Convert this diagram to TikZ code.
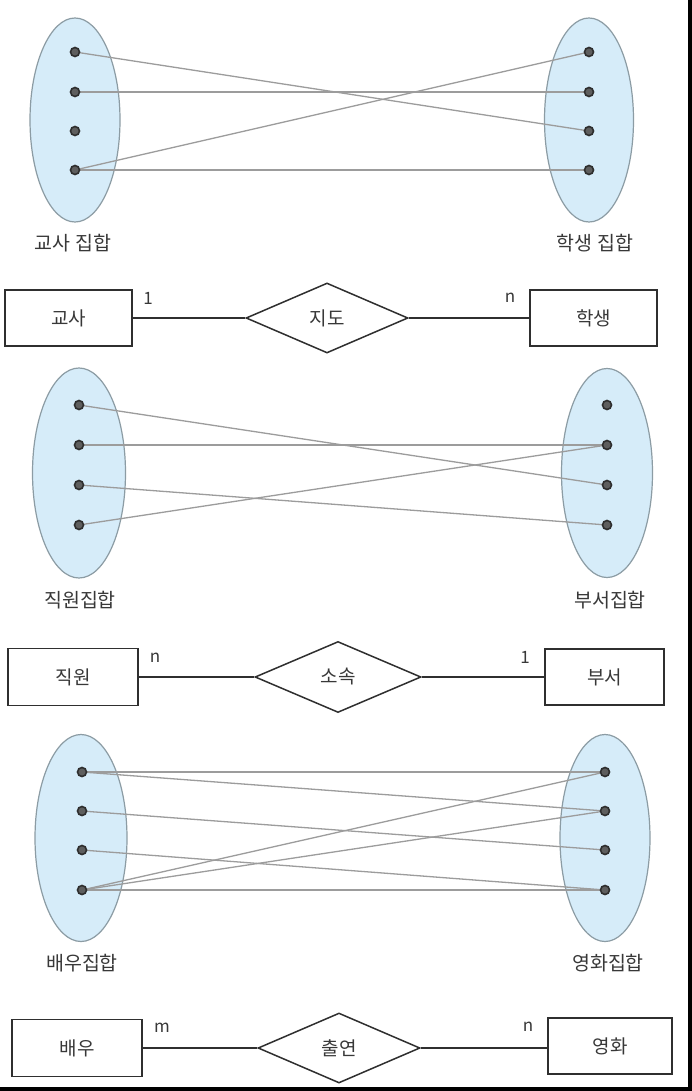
\documentclass[tikz,border=0pt]{standalone}
\usepackage{fontspec}
\setmainfont{Noto Sans CJK KR}
\usetikzlibrary{shapes.geometric}

\definecolor{setfill}{HTML}{D6ECF9}
\definecolor{setedge}{HTML}{8C9CA4}
\definecolor{linkgray}{HTML}{9C9C9C}
\definecolor{dotfill}{HTML}{5E5E5E}
\definecolor{dotedge}{HTML}{2E2E2E}
\definecolor{erline}{HTML}{2F2F2F}
\definecolor{txt}{HTML}{383838}

\pgfdeclarelayer{paper}
\pgfdeclarelayer{sets}
\pgfdeclarelayer{links}
\pgfsetlayers{paper,sets,links,main}

\tikzset{
  setshape/.style={ellipse, draw=setedge, fill=setfill, line width=1.2pt, inner sep=0pt},
  elem/.style={circle, draw=dotedge, fill=dotfill, line width=1.6pt, inner sep=0pt, minimum size=9pt},
  link/.style={draw=linkgray, line width=1.3pt},
  setlabel/.style={text=txt, inner sep=0pt, font=\fontsize{19.5}{22}\selectfont},
  entity/.style={rectangle, draw=erline, line width=1.5pt, inner sep=0pt, text=txt,
                 font=\fontsize{19}{21}\selectfont},
  relation/.style={diamond, draw=erline, line width=1.5pt, inner sep=0pt, text=txt,
                   font=\fontsize{19}{21}\selectfont},
  card/.style={text=txt, inner sep=0pt, font=\fontsize{17}{19}\selectfont},
  erlink/.style={draw=erline, line width=1.5pt}
}

\begin{document}
\begin{tikzpicture}[x=1pt,y=-1pt]
\useasboundingbox (0,0) rectangle (692,1091);
\begin{pgfonlayer}{paper}
  \fill[white] (0,0) rectangle (692,1091);
\end{pgfonlayer}

% ---------- teachers / students ----------
\begin{pgfonlayer}{sets}
  \node[setshape, minimum width=90pt, minimum height=204pt] (tset) at (75,120) {};
  \node[setshape, minimum width=89pt, minimum height=204pt] (sset) at (589,120) {};
\end{pgfonlayer}
\foreach \i/\y in {1/52,2/92,3/131,4/170}{
  \node[elem] (a\i) at (75,\y) {};
  \node[elem] (b\i) at (589,\y) {};
}
\begin{pgfonlayer}{links}
  \draw[link] (a1.center) -- (b3.center);
  \draw[link] (a2.center) -- (b2.center);
  \draw[link] (a4.center) -- (b1.center);
  \draw[link] (a4.center) -- (b4.center);
\end{pgfonlayer}
\node[setlabel] (tlab) at (73,243) {교사 집합};
\node[setlabel] (slab) at (595,243) {학생 집합};

\node[entity, minimum width=127pt, minimum height=56pt] (teacher) at (68.5,318) {교사};
\node[relation, minimum width=162pt, minimum height=70pt] (guide) at (327,318) {지도};
\node[entity, minimum width=127pt, minimum height=56pt] (student) at (593.5,318) {학생};
\draw[erlink] (teacher.east) -- (guide.west);
\draw[erlink] (guide.east) -- (student.west);
\node[card] (c1) at (148,298) {1};
\node[card] (c2) at (510,298) {n};

% ---------- employees / departments ----------
\begin{pgfonlayer}{sets}
  \node[setshape, minimum width=93pt, minimum height=210pt] (eset) at (79,473) {};
  \node[setshape, minimum width=91pt, minimum height=209pt] (dset) at (607,473) {};
\end{pgfonlayer}
\foreach \i/\y in {1/405,2/445,3/485,4/525}{
  \node[elem] (c\i) at (79,\y) {};
  \node[elem] (d\i) at (607,\y) {};
}
\begin{pgfonlayer}{links}
  \draw[link] (c1.center) -- (d3.center);
  \draw[link] (c2.center) -- (d2.center);
  \draw[link] (c3.center) -- (d4.center);
  \draw[link] (c4.center) -- (d2.center);
\end{pgfonlayer}
\node[setlabel] (elab) at (80,600) {직원집합};
\node[setlabel] (dlab) at (610,600) {부서집합};

\node[entity, minimum width=130pt, minimum height=57pt] (emp) at (73,677) {직원};
\node[relation, minimum width=166pt, minimum height=71pt] (belong) at (338,677) {소속};
\node[entity, minimum width=119pt, minimum height=56pt] (dept) at (604.5,677) {부서};
\draw[erlink] (emp.east) -- (belong.west);
\draw[erlink] (belong.east) -- (dept.west);
\node[card] (c3n) at (155,658) {n};
\node[card] (c4n) at (525,657) {1};

% ---------- actors / movies ----------
\begin{pgfonlayer}{sets}
  \node[setshape, minimum width=92pt, minimum height=207pt] (aset) at (81,838) {};
  \node[setshape, minimum width=90pt, minimum height=207pt] (mset) at (605,838) {};
\end{pgfonlayer}
\foreach \i/\y in {1/772,2/811,3/850,4/890}{
  \node[elem] (e\i) at (82,\y) {};
  \node[elem] (f\i) at (605,\y) {};
}
\begin{pgfonlayer}{links}
  \draw[link] (e1.center) -- (f1.center);
  \draw[link] (e1.center) -- (f2.center);
  \draw[link] (e2.center) -- (f3.center);
  \draw[link] (e3.center) -- (f4.center);
  \draw[link] (e4.center) -- (f1.center);
  \draw[link] (e4.center) -- (f2.center);
  \draw[link] (e4.center) -- (f4.center);
\end{pgfonlayer}
\node[setlabel] (alab) at (82,963) {배우집합};
\node[setlabel] (mlab) at (608,963) {영화집합};

\node[entity, minimum width=130pt, minimum height=57pt] (actor) at (77,1048) {배우};
\node[relation, minimum width=162pt, minimum height=70pt] (appear) at (339,1048) {출연};
\node[entity, minimum width=124pt, minimum height=56pt] (movie) at (610,1046) {영화};
\draw[erlink] (actor.east) -- (appear.west);
\draw[erlink] (appear.east) -- (appear.east -| movie.west);
\node[card] (c5) at (162,1028) {m};
\node[card] (c6) at (528,1027) {n};

% ---------- frame edges ----------
\fill[black] (688,0) rectangle (692,1091);
\fill[black] (0,1087) rectangle (692,1091);
\end{tikzpicture}
\end{document}
